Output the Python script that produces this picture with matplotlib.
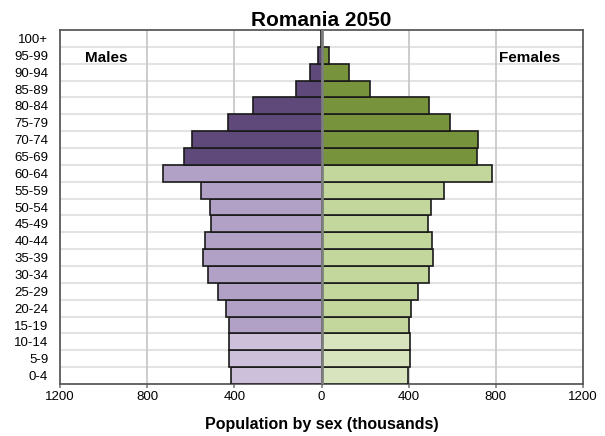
import matplotlib
matplotlib.use("Agg")
import matplotlib.pyplot as plt
import numpy as np

plt.rcParams['font.family'] = ['Liberation Sans', 'DejaVu Sans']

age_groups = ["0-4", "5-9", "10-14", "15-19", "20-24", "25-29", "30-34", "35-39",
              "40-44", "45-49", "50-54", "55-59", "60-64", "65-69", "70-74",
              "75-79", "80-84", "85-89", "90-94", "95-99", "100+"]
males = [414, 426, 426, 426, 437, 475, 522, 542, 535, 508, 510, 553, 729,
         631, 593, 430, 315, 116, 55, 14, 1]
females = [395, 408, 408, 402, 412, 445, 492, 512, 506, 487, 501, 563, 783,
           713, 717, 589, 492, 221, 126, 34, 2]
xticks = [-1200, -800, -400, 0, 400, 800, 1200]
xtick_labels = ["1200", "800", "400", "0", "400", "800", "1200"]

male_colors = ["#CCC0DA"] * 3 + ["#B2A1C7"] * 10 + ["#5F497A"] * 8
female_colors = ["#D7E4BD"] * 3 + ["#C3D69B"] * 10 + ["#77933C"] * 8

fig = plt.figure(figsize=(6.05, 4.36), dpi=100)
ax = fig.add_axes([60/605, 1-384/436, (583-60)/605, (384-30)/436])

y = np.arange(len(age_groups))
ax.barh(y, [-m for m in males], height=1.0, color=male_colors,
        edgecolor="#1a1a1a", linewidth=1.2, zorder=3)
ax.barh(y, females, height=1.0, color=female_colors,
        edgecolor="#1a1a1a", linewidth=1.2, zorder=3)

ax.set_xlim(-1200, 1200)
ax.set_ylim(-0.5, len(age_groups) - 0.5)

for b in np.arange(len(age_groups) - 1) + 0.5:
    ax.axhline(b, color="#e3e3e3", linewidth=1.5, zorder=1)
for v in [-800, -400, 400, 800]:
    ax.axvline(v, color="#c8c8c8", linewidth=1.3, zorder=1)
ax.axvline(0, color="#7f7f7f", linewidth=2.0, zorder=4)

ax.set_xticks(xticks)
ax.set_xticklabels(xtick_labels, fontsize=9.5)
ax.set_yticks(y)
ax.set_yticklabels(age_groups, fontsize=9.5)
ax.tick_params(axis='y', length=0, pad=8.5)
ax.tick_params(axis='x', length=3, color="#7f7f7f", pad=2, width=1.2)

for s in ax.spines.values():
    s.set_color("#5a5a5a")
    s.set_linewidth(1.3)

ax.set_title("Romania 2050", fontsize=15, fontweight='bold', pad=2)
ax.set_xlabel("Population by sex (thousands)", fontsize=11.5, fontweight='bold', labelpad=10)

ax.text(-1085, 18.85, "Males", fontsize=11, fontweight='bold', ha='left', va='center')
ax.text(1097, 18.85, "Females", fontsize=11, fontweight='bold', ha='right', va='center')

fig.savefig("out.png", dpi=100)
